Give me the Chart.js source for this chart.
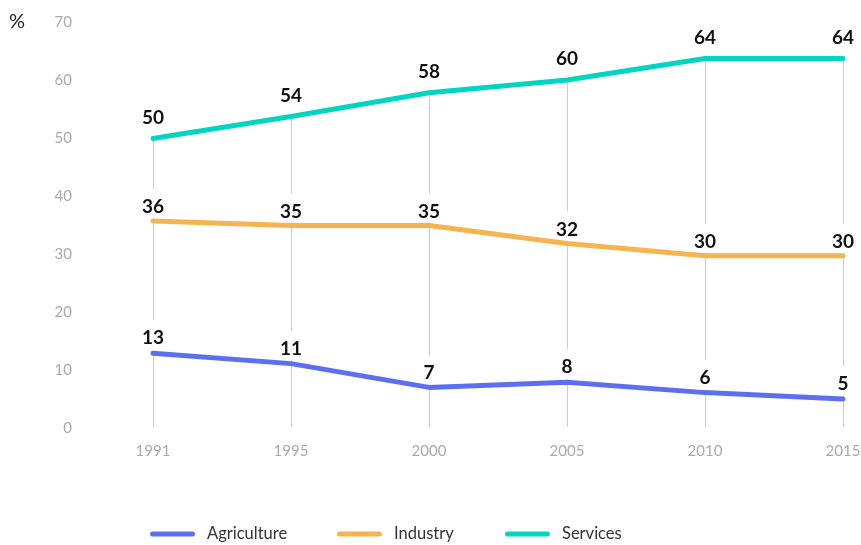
<!DOCTYPE html>
<html>
<head>
<meta charset="utf-8">
<script src="https://cdn.jsdelivr.net/npm/chart.js@4.4.0/dist/chart.umd.min.js"></script>
<style>
  html, body { margin: 0; padding: 0; background: #fff; }
  #wrap { width: 861px; height: 545px; }
</style>
</head>
<body>
<div id="wrap"><canvas id="chart"></canvas></div>
<script>
const years = ['1991', '1995', '2000', '2005', '2010', '2015'];
const agriculture = [12.9, 11.1, 7.0, 7.9, 6.1, 5.0];
const industry = [35.7, 34.9, 34.9, 31.8, 29.7, 29.7];
const services = [49.9, 53.7, 57.8, 60.0, 63.7, 63.7];
const seriesNames = ['Agriculture', 'Industry', 'Services'];
const yMin = 0, yMax = 70, yStep = 10;
const unitLabel = '%';

const FONT = 'Lato, "Open Sans", sans-serif';
const colors = ['#5c6ff1', '#f5b44f', '#00d5c1'];

// vertical lines from the top series down to the axis, plus white boxes behind value labels
const dropLines = {
  id: 'dropLines',
  beforeDatasetsDraw(chart) {
    const ctx = chart.ctx;
    const area = chart.chartArea;
    const topPts = chart.getDatasetMeta(2).data;
    ctx.save();
    ctx.strokeStyle = '#cccccc';
    ctx.lineWidth = 1;
    topPts.forEach(pt => {
      const x = Math.round(pt.x) + 0.5;
      ctx.beginPath();
      ctx.moveTo(x, pt.y);
      ctx.lineTo(x, area.bottom - 1);
      ctx.stroke();
    });
    ctx.fillStyle = '#fff';
    chart.data.datasets.forEach((ds, i) => {
      chart.getDatasetMeta(i).data.forEach(pt => {
        const cy = pt.y - ds.labelOffset;
        ctx.fillRect(pt.x - 15, cy - 18, 30, pt.y - (cy - 18) - 3);
      });
    });
    ctx.restore();
  }
};

const valueLabels = {
  id: 'valueLabels',
  afterDatasetsDraw(chart) {
    const ctx = chart.ctx;
    ctx.save();
    ctx.font = 'bold 19px ' + FONT;
    ctx.fillStyle = '#111';
    ctx.textAlign = 'center';
    ctx.textBaseline = 'middle';
    chart.data.datasets.forEach((ds, i) => {
      chart.getDatasetMeta(i).data.forEach((pt, j) => {
        ctx.fillText(String(Math.round(ds.data[j])), pt.x, pt.y - ds.labelOffset);
      });
    });
    ctx.restore();
  }
};

const extras = {
  id: 'extras',
  afterDraw(chart) {
    const ctx = chart.ctx;
    ctx.save();
    // unit label
    ctx.font = '20px ' + FONT;
    ctx.fillStyle = '#222';
    ctx.textAlign = 'left';
    ctx.textBaseline = 'middle';
    ctx.fillText(unitLabel, 9, 22);
    // legend
    const xs = [150, 337, 505];
    const y = 534;
    chart.data.datasets.forEach((ds, i) => {
      const x = xs[i];
      ctx.strokeStyle = ds.borderColor;
      ctx.lineWidth = 5;
      ctx.lineCap = 'round';
      ctx.beginPath();
      ctx.moveTo(x + 2.5, y);
      ctx.lineTo(x + 42.5, y);
      ctx.stroke();
      ctx.font = '16.5px ' + FONT;
      ctx.fillStyle = '#333';
      ctx.fillText(ds.label, x + 57, y);
    });
    ctx.restore();
  }
};

function makeSeries(i, data, offset) {
  return {
    label: seriesNames[i],
    data: data,
    borderColor: colors[i],
    backgroundColor: colors[i],
    borderWidth: 5,
    borderCapStyle: 'round',
    borderJoinStyle: 'round',
    pointRadius: 0,
    tension: 0,
    clip: false,
    labelOffset: offset
  };
}

new Chart(document.getElementById('chart'), {
  type: 'line',
  data: {
    labels: years,
    datasets: [
      makeSeries(0, agriculture, 15),
      makeSeries(1, industry, 14),
      makeSeries(2, services, 21)
    ]
  },
  options: {
    responsive: true,
    maintainAspectRatio: false,
    animation: false,
    layout: { padding: { left: 0, right: 18, top: 22, bottom: 71 } },
    plugins: {
      legend: { display: false },
      tooltip: { enabled: false }
    },
    scales: {
      x: {
        offset: false,
        grid: { display: false, drawTicks: false },
        border: { display: false },
        ticks: { color: '#aaaaaa', font: { family: FONT, size: 15 }, padding: 14, maxRotation: 0 },
        afterFit(scale) { scale.paddingLeft = 0; scale.paddingRight = 0; }
      },
      y: {
        min: yMin,
        max: yMax,
        grid: { display: false, drawTicks: false },
        border: { display: false },
        ticks: { stepSize: yStep, color: '#aaaaaa', font: { family: FONT, size: 15 }, padding: 81 },
        afterFit(scale) { scale.width = 153; scale.paddingTop = 0; scale.paddingBottom = 0; }
      }
    }
  },
  plugins: [dropLines, valueLabels, extras]
});
</script>
</body>
</html>
